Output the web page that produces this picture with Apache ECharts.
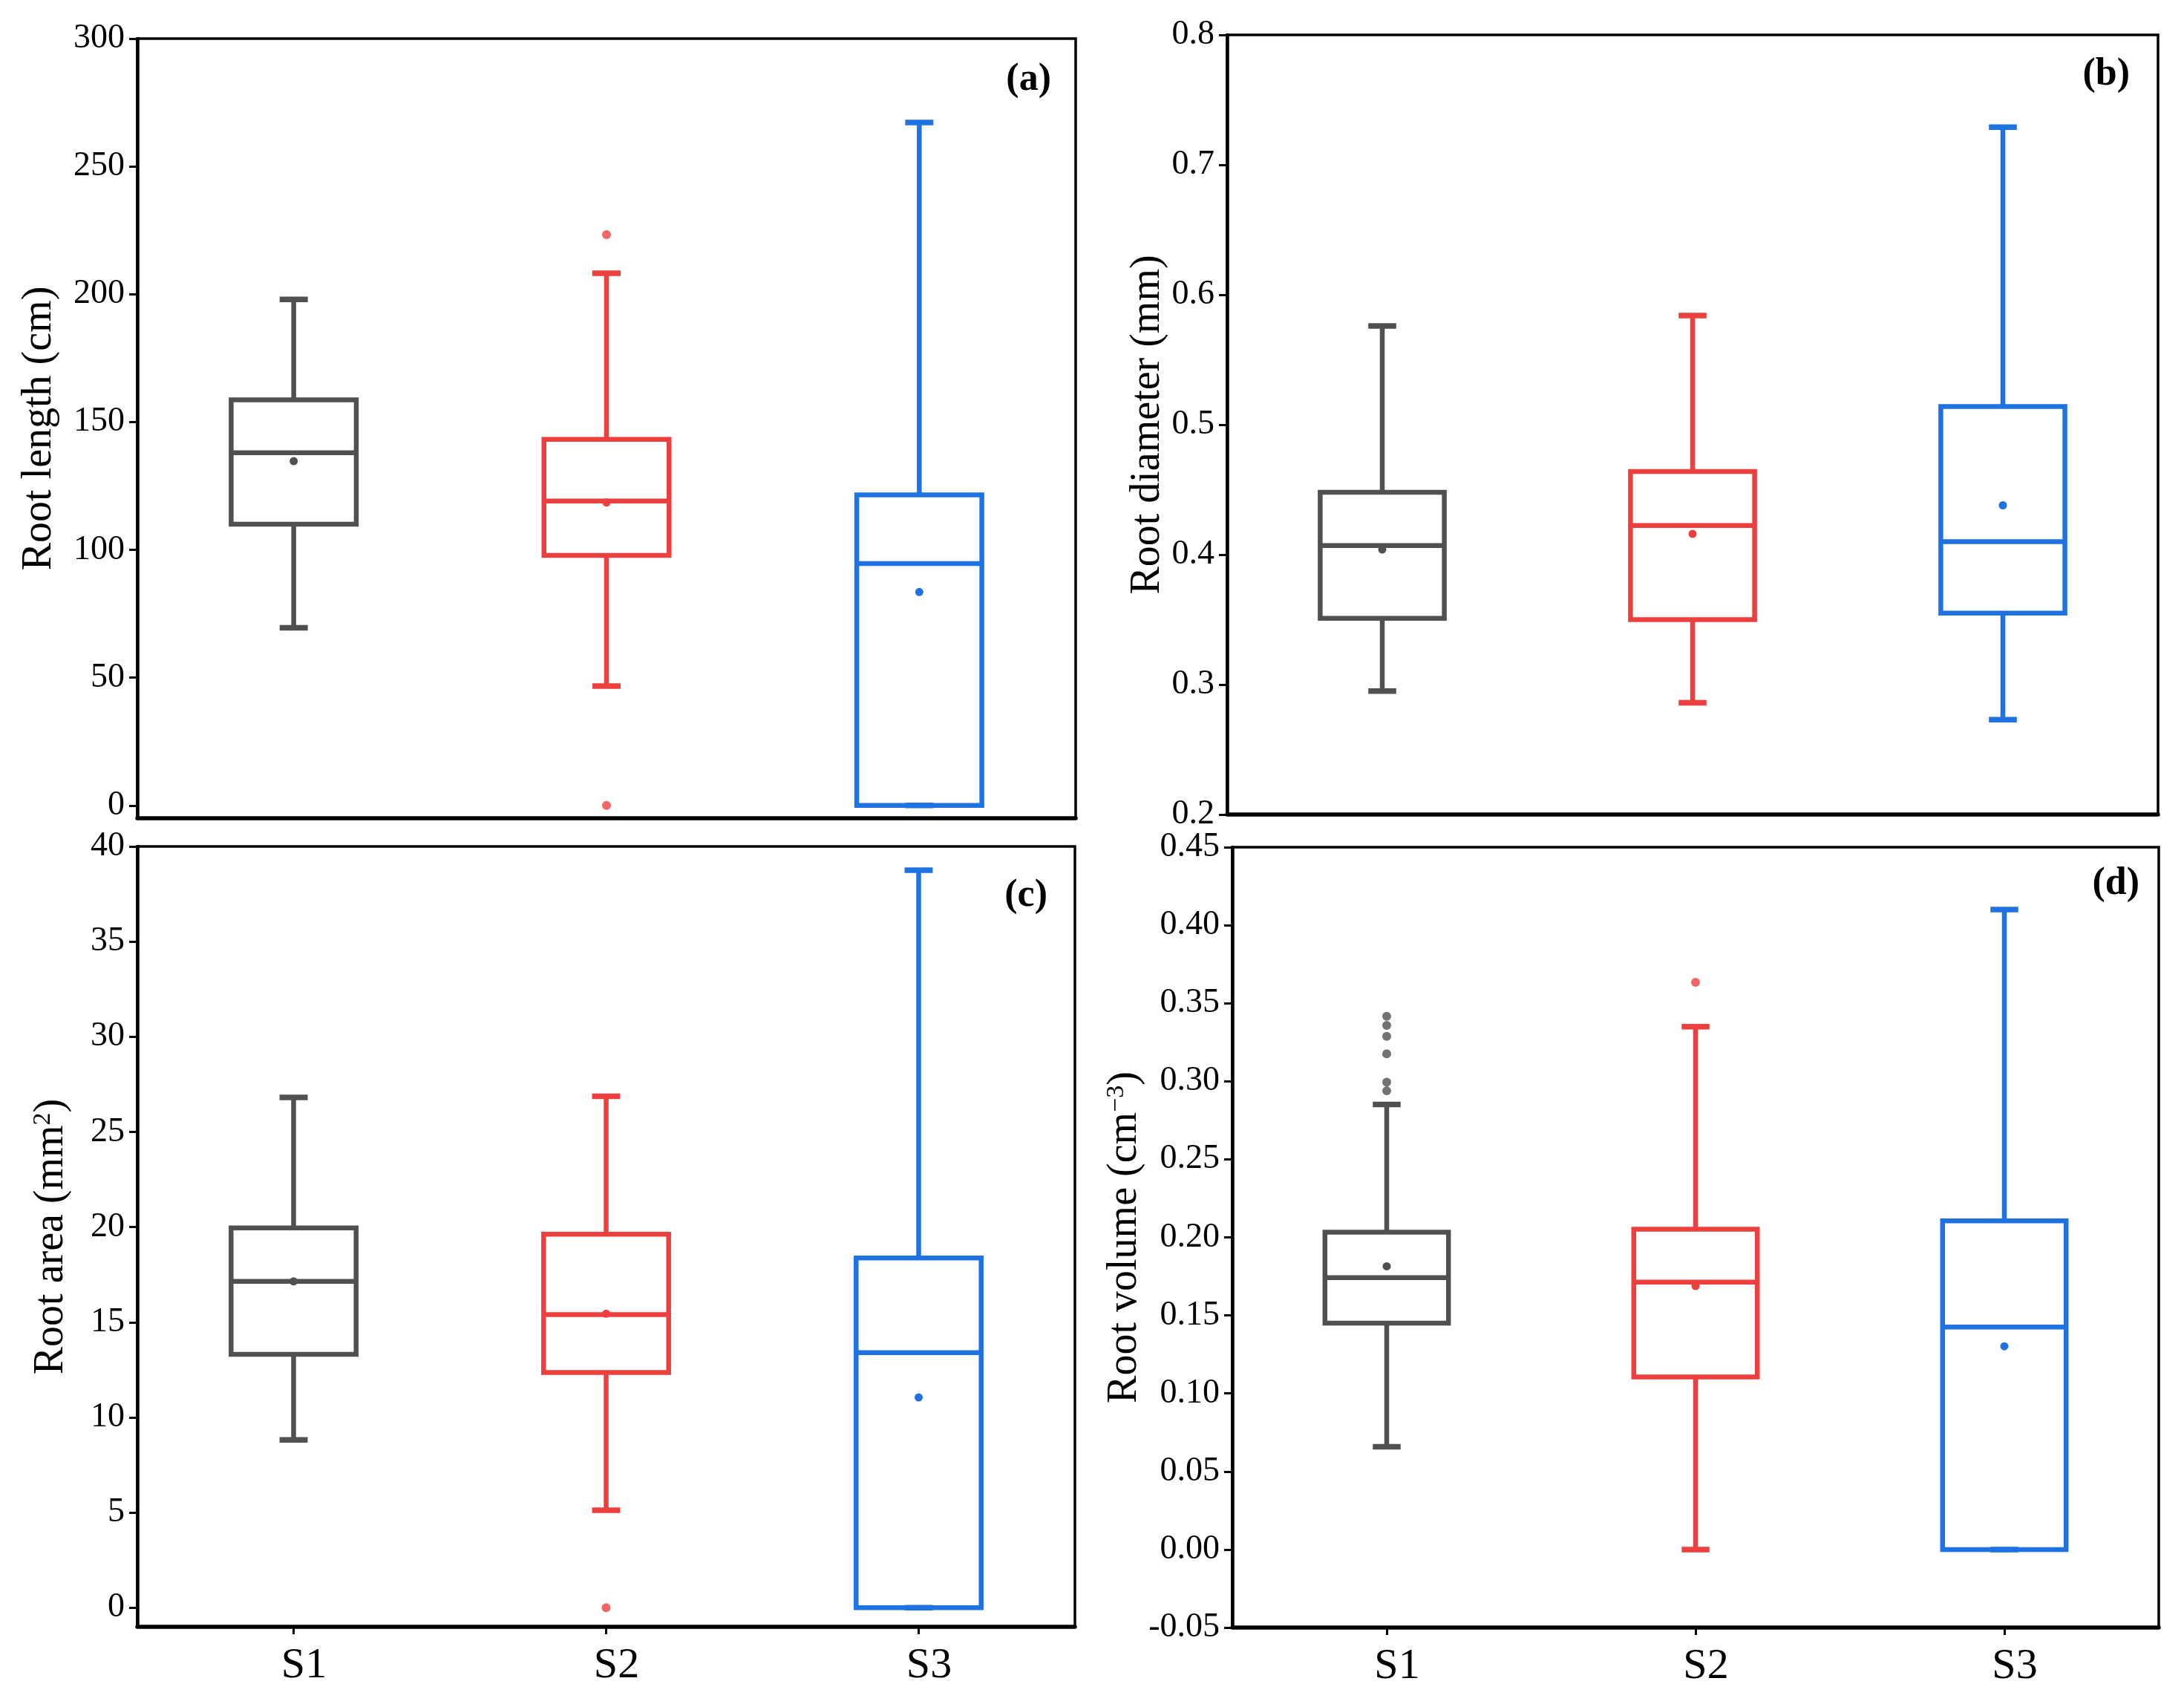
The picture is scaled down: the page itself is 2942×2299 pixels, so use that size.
<!DOCTYPE html>
<html>
<head>
<meta charset="utf-8">
<script src="https://cdn.jsdelivr.net/npm/echarts@6.0.0/dist/echarts.min.js"></script>
<style>
html,body{margin:0;padding:0;background:#fff;}
#chart{width:2942px;height:2299px;}
</style>
</head>
<body>
<div id="chart"></div>
<script>
// ---------- data ----------
const categories = ['S1', 'S2', 'S3'];
// five-number summaries: [lower whisker, Q1, median, Q3, upper whisker]
const lengthStats = [[69.5, 110, 138, 158.7, 198], [46.7, 97.8, 119.1, 143.2, 208.2], [0, 0, 94.6, 121.5, 267.2]];
const lengthMeans = [134.7, 118.5, 83.5];
const lengthOutliers = [['S2', 223.3], ['S2', 0]];

const diameterStats = [[0.295, 0.351, 0.407, 0.448, 0.576], [0.286, 0.350, 0.4225, 0.464, 0.584], [0.273, 0.355, 0.410, 0.514, 0.729]];
const diameterMeans = [0.404, 0.416, 0.438];
const diameterOutliers = [];

const areaStats = [[8.82, 13.32, 17.15, 19.96, 26.81], [5.12, 12.36, 15.4, 19.63, 26.87], [0, 0, 13.4, 18.38, 38.75]];
const areaMeans = [17.15, 15.45, 11.05];
const areaOutliers = [['S2', 0]];

const volumeStats = [[0.0658, 0.1451, 0.1742, 0.2033, 0.2852], [0, 0.1106, 0.1713, 0.2052, 0.335], [0, 0, 0.1426, 0.2106, 0.41]];
const volumeMeans = [0.1815, 0.1688, 0.1302];
const volumeOutliers = [['S1', 0.3416], ['S1', 0.3358], ['S1', 0.3288], ['S1', 0.3176], ['S1', 0.2994], ['S1', 0.2939], ['S2', 0.3634]];

const lengthTicks = [0, 50, 100, 150, 200, 250, 300];
const areaTicks = [0, 5, 10, 15, 20, 25, 30, 35, 40];

// ---------- styles ----------
const colors = ['#505050', '#EE3F3F', '#1F72E2'];
const FONT = '"Liberation Serif", "DejaVu Serif", serif';

function boxData(stats, means) {
  return stats.map((s, i) => [i, s[0], s[1], s[2], s[3], s[4], means[i]]);
}

function renderBox(params, api) {
  const i = api.value(0);
  const lo = api.value(1), q1 = api.value(2), md = api.value(3), q3 = api.value(4), hi = api.value(5), mean = api.value(6);
  const band = api.size([1, 0])[0];
  const bw = band * 0.40, cw = band * 0.09;
  const x = api.coord([i, md])[0];
  const y = v => api.coord([i, v])[1];
  const c = colors[i];
  const st = { stroke: c, lineWidth: 6.5, fill: null };
  const cap = { stroke: c, lineWidth: 7.5, fill: null };
  const line = (x1, y1, x2, y2, s) => ({ type: 'line', shape: { x1, y1, x2, y2 }, style: s || st });
  return {
    type: 'group',
    children: [
      line(x, y(q3), x, y(hi)),
      line(x, y(q1), x, y(lo)),
      line(x - cw / 2, y(hi), x + cw / 2, y(hi), cap),
      line(x - cw / 2, y(lo), x + cw / 2, y(lo), cap),
      { type: 'rect', shape: { x: x - bw / 2, y: y(q3), width: bw, height: y(q1) - y(q3) }, style: st },
      line(x - bw / 2, y(md), x + bw / 2, y(md)),
      { type: 'circle', shape: { cx: x, cy: y(mean), r: 5.5 }, style: { fill: c } }
    ]
  };
}

const grids = [
  { left: 185, top: 52, width: 1264, height: 1050 },
  { left: 1653, top: 47, width: 1254, height: 1050 },
  { left: 185, top: 1140, width: 1263, height: 1051 },
  { left: 1660, top: 1141, width: 1248, height: 1051 }
].map(g => Object.assign({ show: true, borderColor: '#000', borderWidth: 3.5, backgroundColor: 'transparent' }, g));

function xAxis(gi, showLabels) {
  return {
    type: 'category', gridIndex: gi, data: categories, boundaryGap: true,
    axisLine: { show: true, onZero: false, lineStyle: { color: '#000', width: 5.5 } },
    axisTick: { show: showLabels, alignWithLabel: true, length: 10, lineStyle: { color: '#000', width: 3 } },
    axisLabel: { show: showLabels, fontFamily: FONT, fontSize: 58, color: '#000', margin: 24, padding: [0, 0, 0, 28] },
    splitLine: { show: false }
  };
}

function yAxis(gi, cfg) {
  const ax = {
    type: 'value', gridIndex: gi, min: cfg.min, max: cfg.max,
    name: cfg.name, nameLocation: 'middle', nameGap: cfg.nameGap, nameRotate: 90,
    nameTextStyle: {
      fontFamily: FONT, fontSize: 56, color: '#000',
      rich: {
        t: { fontFamily: FONT, fontSize: 56, color: '#000', verticalAlign: 'bottom' },
        s: { fontFamily: FONT, fontSize: 34, color: '#000', verticalAlign: 'top' }
      }
    },
    axisLine: { show: true, onZero: false, lineStyle: { color: '#000', width: 4.5 } },
    axisTick: { show: true, length: 11, lineStyle: { color: '#000', width: 3 } },
    axisLabel: { fontFamily: FONT, fontSize: 46, color: '#000', margin: 17 },
    splitLine: { show: false }
  };
  if (cfg.interval) ax.interval = cfg.interval;
  if (cfg.ticks) {
    ax.axisLabel.customValues = cfg.ticks;
    ax.axisTick.customValues = cfg.ticks;
  }
  if (cfg.formatter) ax.axisLabel.formatter = cfg.formatter;
  return ax;
}

function boxSeries(gi, stats, means) {
  return {
    type: 'custom', xAxisIndex: gi, yAxisIndex: gi,
    renderItem: renderBox, data: boxData(stats, means),
    encode: { x: 0, y: [1, 2, 3, 4, 5] }, silent: true, z: 3
  };
}
function outlierSeries(gi, pts) {
  return {
    type: 'scatter', xAxisIndex: gi, yAxisIndex: gi, data: pts,
    symbol: 'circle', symbolSize: 12, silent: true, z: 4,
    itemStyle: { color: p => colors[categories.indexOf(p.value[0])] }
  };
}

const panelLabel = (text, x, y) => ({
  type: 'text', x: x, y: y, z: 10,
  style: { text: text, font: 'bold 52px ' + FONT, fill: '#000', align: 'right', verticalAlign: 'middle' }
});

const option = {
  backgroundColor: '#fff',
  animation: false,
  grid: grids,
  xAxis: [xAxis(0, false), xAxis(1, false), xAxis(2, true), xAxis(3, true)],
  yAxis: [
    yAxis(0, { min: -5, max: 300, ticks: lengthTicks, name: 'Root length (cm)', nameGap: 104 }),
    yAxis(1, { min: 0.2, max: 0.8, interval: 0.1, name: 'Root diameter (mm)', nameGap: 70, formatter: v => v.toFixed(1) }),
    yAxis(2, { min: -1, max: 40, ticks: areaTicks, name: '{t|Root area (mm}{s|2}{t|)}', nameGap: 88 }),
    yAxis(3, { min: -0.05, max: 0.45, interval: 0.05, name: '{t|Root volume (cm}{s|−3}{t|)}', nameGap: 116, formatter: v => v.toFixed(2) })
  ],
  series: [
    boxSeries(0, lengthStats, lengthMeans), outlierSeries(0, lengthOutliers),
    boxSeries(1, diameterStats, diameterMeans), outlierSeries(1, diameterOutliers),
    boxSeries(2, areaStats, areaMeans), outlierSeries(2, areaOutliers),
    boxSeries(3, volumeStats, volumeMeans), outlierSeries(3, volumeOutliers)
  ],
  graphic: [
    panelLabel('(a)', 1416, 108),
    panelLabel('(b)', 2869, 101),
    panelLabel('(c)', 1411, 1207),
    panelLabel('(d)', 2882, 1191)
  ]
};

const chart = echarts.init(document.getElementById('chart'), null, { renderer: 'canvas' });
chart.setOption(option);
</script>
</body>
</html>
